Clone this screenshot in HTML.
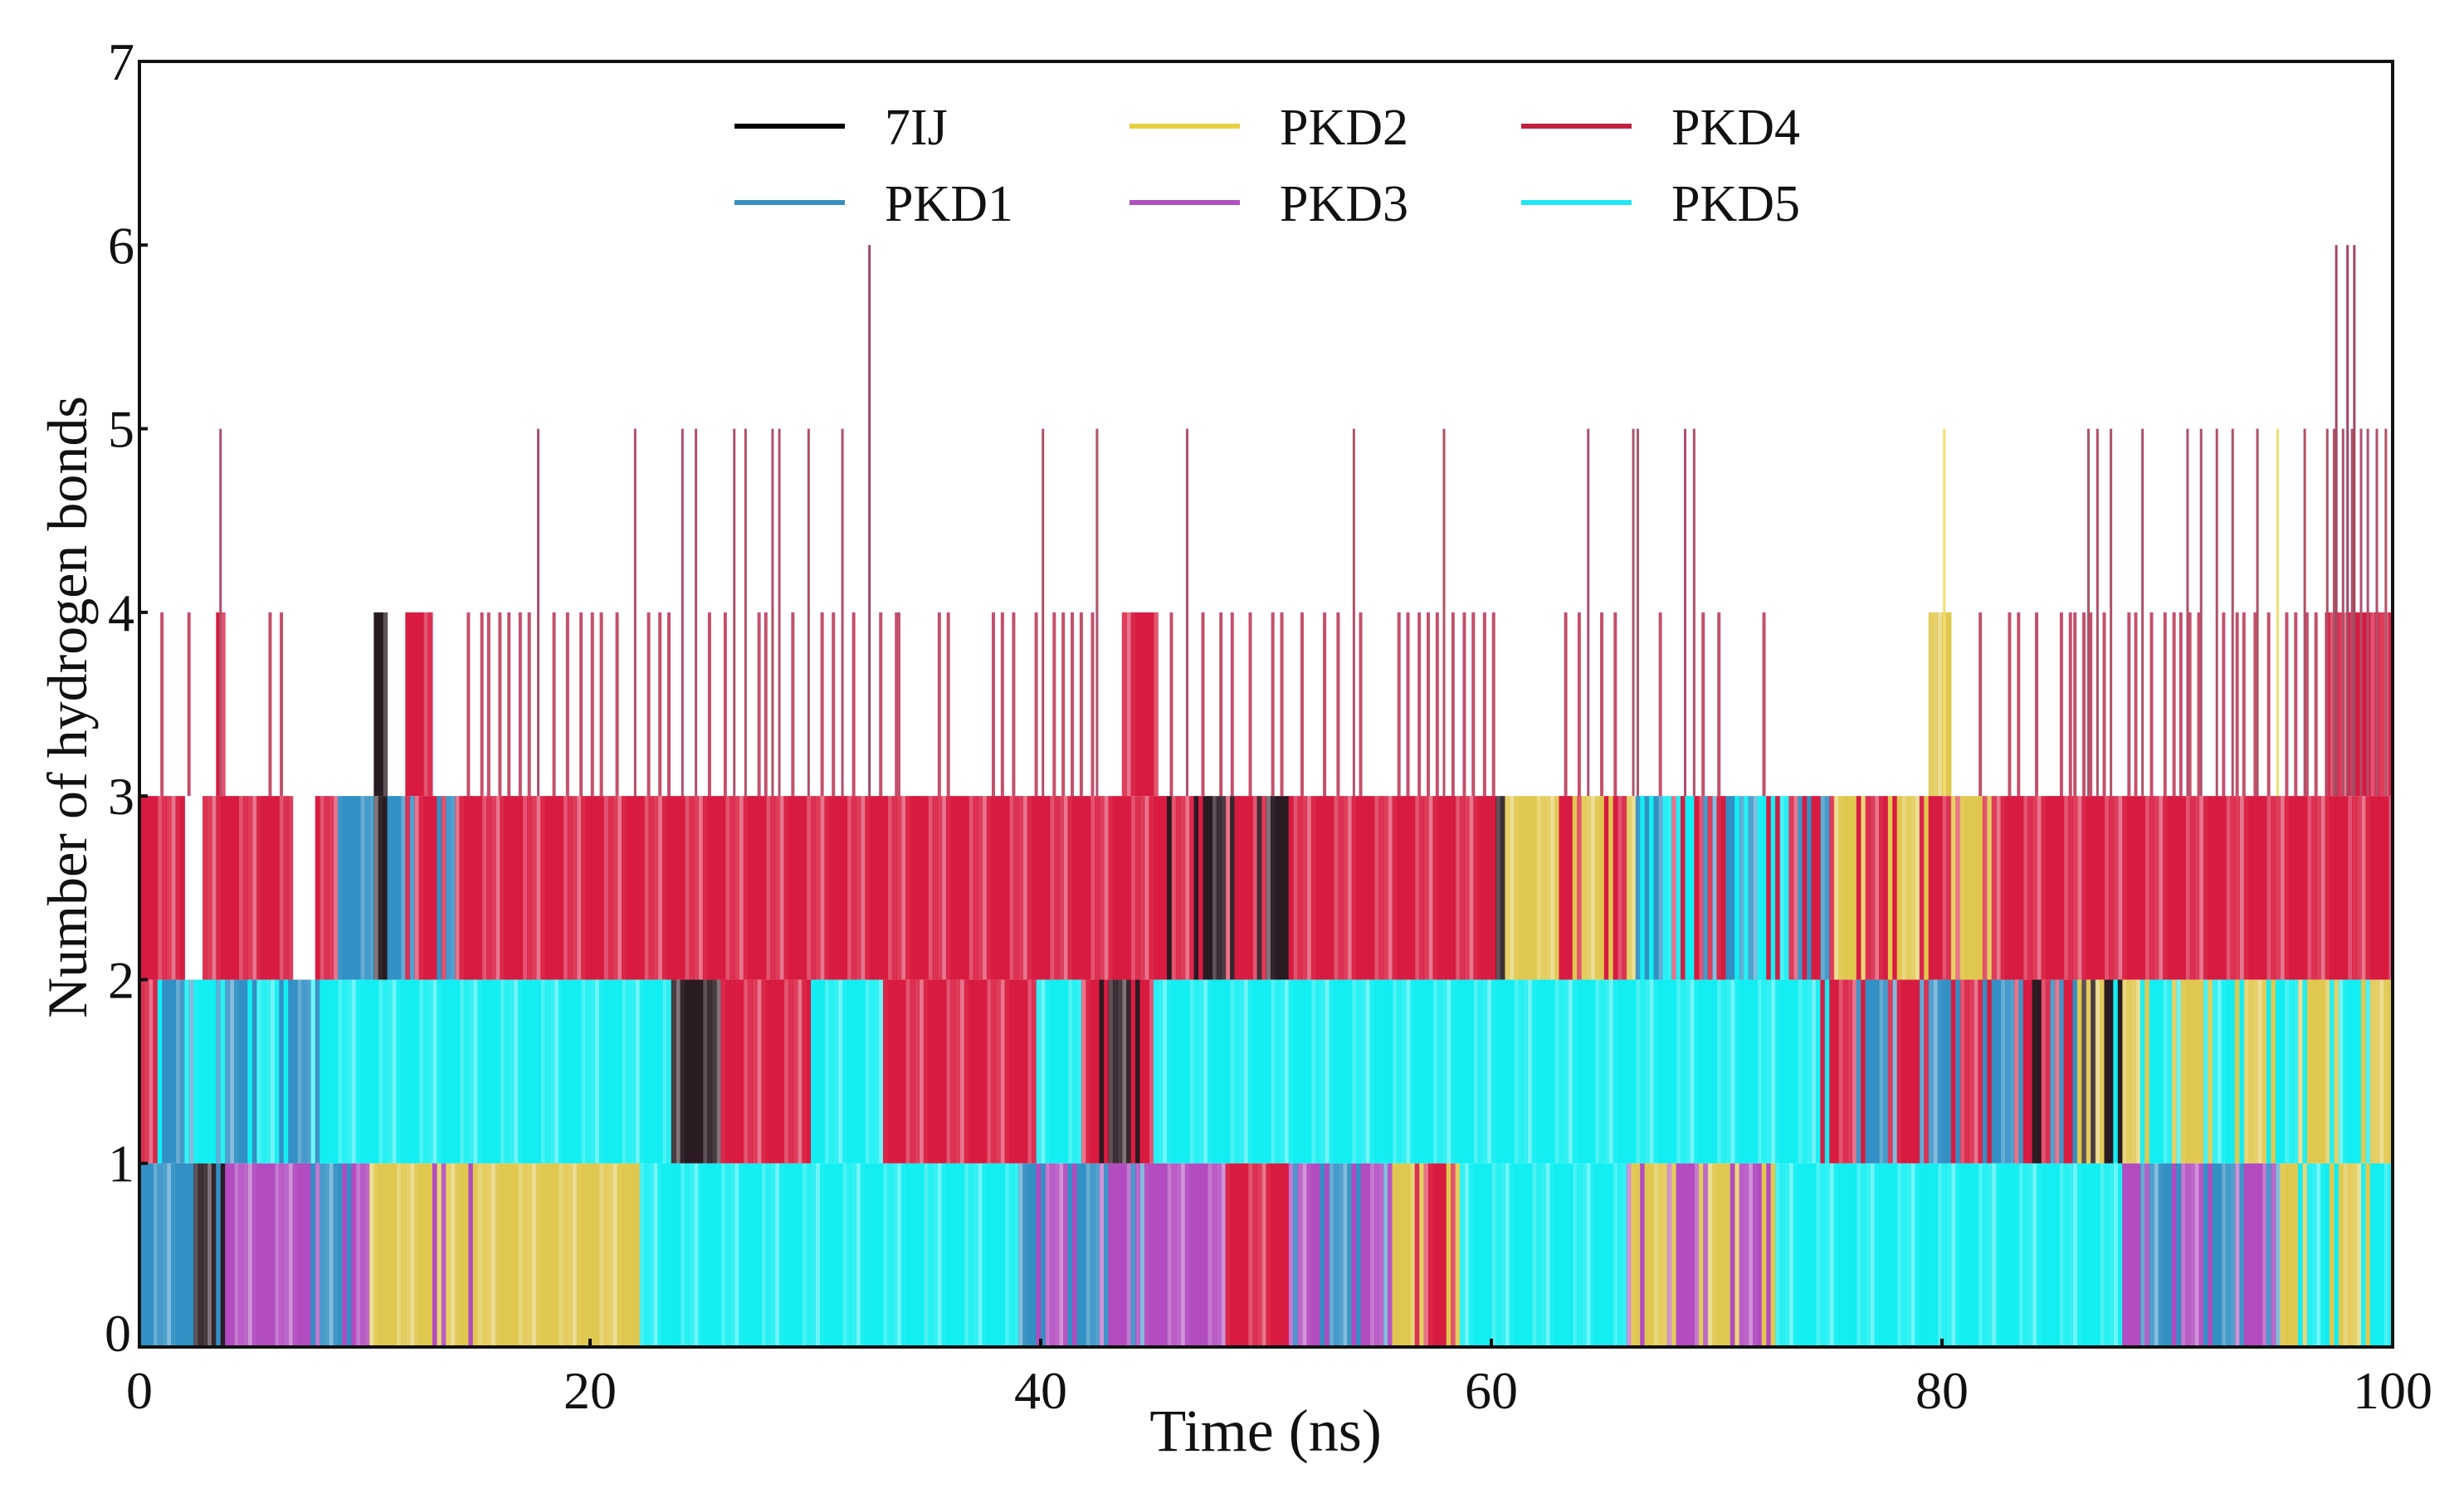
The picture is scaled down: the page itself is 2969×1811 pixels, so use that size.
<!DOCTYPE html>
<html><head><meta charset="utf-8"><style>
html,body{margin:0;padding:0;background:#fff;}
svg text{font-family:"Liberation Serif",serif;fill:#111;}
</style></head><body>
<svg id="chart" width="2969" height="1806" viewBox="0 0 2969 1806" xmlns="http://www.w3.org/2000/svg">
<rect width="2969" height="1806" fill="#fff"/>
<g id="marks"></g>
<g id="spikes"></g>
<g id="axes"></g>
<g id="legend"></g>
<text x="1525" y="1748" font-size="72" text-anchor="middle">Time (ns)</text>
<text transform="translate(104,852) rotate(-90)" font-size="68" text-anchor="middle">Number of hydrogen bonds</text>
</svg>
<script>
const seriesNames = ["7IJ","PKD1","PKD2","PKD3","PKD4","PKD5"];
const seriesColors = ["#2a1a22","#3390c4","#e0c850","#b24cc0","#d81b40","#12eef2"];
// segments: [startTime, endTime, lowValue, highValue]
const seg7IJ = [[2.5,4,0,1],[10.4,11.1,2,4],[23.7,25.9,1,2],[41.9,45,1,2],[45.6,51,2,3],[60.2,60.7,2,3],[84,88,1,2]];
const segPKD1 = [[0,3.9,0,1],[7.6,10.2,0,1],[39,44.7,0,1],[51,55.6,0,1],[88,95,0,1],[0.8,8,1,2],[66,75,2,3],[8.9,10.4,2,3],[11.1,14.1,2,3],[75.2,86,1,2]];
const segPKD2 = [[10.2,22.2,0,1],[55.6,58.7,0,1],[66,72.6,0,1],[95,100,0,1],[60.7,66.7,2,3],[74.7,83,2,3],[79.5,80.4,3,4],[86,100,1,2]];
const segPKD3 = [[3.9,7.6,0,1],[7.6,10.2,0,1],[13,15,0,1],[39,48.2,0,1],[51,55.6,0,1],[66,72.6,0,1],[88,95,0,1]];
const segPKD4 = [[0,2,2,3],[2.8,6.9,2,3],[7.8,8.9,2,3],[3.4,3.8,3,4],[11.1,60.2,2,3],[0,0.8,1,2],[25.9,29.9,1,2],[33,39.9,1,2],[41.9,45,1,2],[11.8,13,3,4],[43.6,45.2,3,4],[48.2,51,0,1],[55.6,58.7,0,1],[63,66.7,2,3],[66,74.7,2,3],[74.7,86,1,3],[83,100,2,3],[97,100,3,4]];
const segPKD5 = [[0.8,23.7,1,2],[22.2,39,0,1],[29.9,33,1,2],[39.9,41.9,1,2],[45,75.2,1,2],[58.7,66.7,0,1],[72.6,88,0,1],[66,74.7,2,3],[86,100,1,2],[95,100,0,1]];
const allSegs = [seg7IJ,segPKD1,segPKD2,segPKD3,segPKD4,segPKD5];
// PKD4 spikes above 3
const spike4Times = [1.0,2.2,5.8,6.3,14.6,15.2,15.5,16.0,16.4,16.9,17.3,18.4,19.0,19.6,20.1,20.5,21.2,22.6,23.1,23.5,25.3,26.0,27.5,27.8,29.0,30.3,30.8,31.7,32.9,33.6,33.7,35.5,35.9,37.9,38.3,38.8,39.8,40.6,41.0,41.4,41.8,42.3,45.8,47.2,48.0,48.5,49.3,50.3,50.7,51.6,52.6,53.2,54.2,55.9,56.3,56.8,57.2,57.6,58.3,58.8,59.2,59.7,60.1,63.3,63.9,64.9,65.5,67.5,69.4,70.1,72.1,81.7,83.0,83.4,84.2,85.3,85.7,85.9,86.3,86.6,87.2,88.3,88.6,89.3,89.9,90.3,90.6,91.0,91.4,92.5,93.1,93.4,93.9,94.5,95.3,95.7,96.2,96.6];
const spike5Times = [3.6,17.7,22.0,24.1,24.7,26.4,26.9,28.1,28.4,29.7,31.2,40.1,42.5,46.5,53.9,57.9,64.3,66.5,66.3,68.6,69.0,86.5,86.9,87.5,88.9,90.9,91.5,92.2,92.9,94.0,96.1,97.1,97.4,97.8,98.2,98.6,98.9,99.3,99.7];
const spike6Times = [32.4,97.5,98.0,98.3];
const yellowSpikeTimes = [80.1,94.9];
const yellowSpikeHeights = [5,5];
const xTicks = [0,20,40,60,80,100];
const yTicks = [0,1,2,3,4,5,6,7];

const X0=168, X1=2883, Y0=1623, Y1=74;
const xs = t => X0 + (X1-X0)*t/100;
const ys = v => Y0 - (Y0-Y1)*v/7;
const NS="http://www.w3.org/2000/svg";
function mk(tag, parent){const e=document.createElementNS(NS,tag);parent.appendChild(e);return e;}

const marks=document.getElementById('marks');
const step=0.2;
for(let c=0;c*step<100;c++){
  const t0=c*step, tm=t0+step/2, t1=Math.min(100,t0+step);
  for(let b=0;b<7;b++){
    const cover=[];
    allSegs.forEach((segs,k)=>{
      for(const s of segs){ if(tm>=s[0]&&tm<s[1]&&s[2]<=b&&s[3]>=b+1){cover.push(k);break;} }
    });
    if(!cover.length) continue;
    const k=cover[(c*5+b*3+((c*c)%7))%cover.length];
    const r=mk('rect',marks);
    
    
    r.setAttribute('x',xs(t0)); r.setAttribute('width',xs(t1)-xs(t0)+0.6);
    r.setAttribute('y',ys(b+1)); r.setAttribute('height',ys(b)-ys(b+1));
    r.setAttribute('fill',seriesColors[k]);
    const op=[1,0.9,1,0.75,0.95,1,0.6,1,0.85][(c*7+b)%9];
    r.setAttribute('fill-opacity',op);
  }
}
const spikesG=document.getElementById('spikes');
function spike(t,h,color,w){
  const l=mk('line',spikesG);
  
  
  l.setAttribute('x1',xs(t));l.setAttribute('x2',xs(t));
  l.setAttribute('y1',ys(3));l.setAttribute('y2',ys(h));
  l.setAttribute('stroke',color);l.setAttribute('stroke-width',w);
}
spike4Times.forEach(t=>spike(t,4,'#c4506c',4));
spike5Times.forEach(t=>spike(t,5,'#b05068',3));
spike6Times.forEach(t=>spike(t,6,'#a04860',3));
yellowSpikeTimes.forEach((t,i)=>spike(t,yellowSpikeHeights[i],'#f0e070',3));

const axes=document.getElementById('axes');
const box=mk('rect',axes);


box.setAttribute('x',X0);box.setAttribute('y',Y1);box.setAttribute('width',X1-X0);box.setAttribute('height',Y0-Y1);
box.setAttribute('fill','none');box.setAttribute('stroke','#111');box.setAttribute('stroke-width','4');
xTicks.forEach(v=>{
  const l=mk('line',axes);
  
  
  l.setAttribute('x1',xs(v));l.setAttribute('x2',xs(v));l.setAttribute('y1',Y0);l.setAttribute('y2',Y0-10);
  l.setAttribute('stroke','#111');l.setAttribute('stroke-width','4');
  const tx=mk('text',axes);
  
  
  tx.setAttribute('x',xs(v));tx.setAttribute('y',1697);tx.setAttribute('font-size','64');tx.setAttribute('text-anchor','middle');
  tx.textContent=v;
});
yTicks.forEach(v=>{
  const l=mk('line',axes);
  
  
  l.setAttribute('x1',X0);l.setAttribute('x2',X0+10);l.setAttribute('y1',ys(v));l.setAttribute('y2',ys(v));
  l.setAttribute('stroke','#111');l.setAttribute('stroke-width','4');
  const tx=mk('text',axes);
  
  
  tx.setAttribute('x',v===0?158:162);tx.setAttribute('y',ys(v)+(v===0?5:22));tx.setAttribute('font-size','64');tx.setAttribute('text-anchor','end');
  tx.textContent=v;
});
const legend=document.getElementById('legend');
const legX=[885,1361,1833], legY=[152,244];
const legColors=["#000000","#3a8fc0","#e8d040","#b050c0","#c02040","#20e8f4"];
const legOrder=[[0,0,0],[1,0,1],[2,1,0],[3,1,1],[4,2,0],[5,2,1]];
legOrder.forEach(o=>{
  const k=o[0],x=legX[o[1]],y=legY[o[2]];
  const l=mk('line',legend);
  
  
  l.setAttribute('x1',x);l.setAttribute('x2',x+133);l.setAttribute('y1',y);l.setAttribute('y2',y);
  l.setAttribute('stroke',legColors[k]);l.setAttribute('stroke-width','6');
  const tx=mk('text',legend);
  
  
  tx.setAttribute('x',x+181);tx.setAttribute('y',y+22);tx.setAttribute('font-size','62');
  tx.textContent=seriesNames[k];
});
</script>
</body></html>
